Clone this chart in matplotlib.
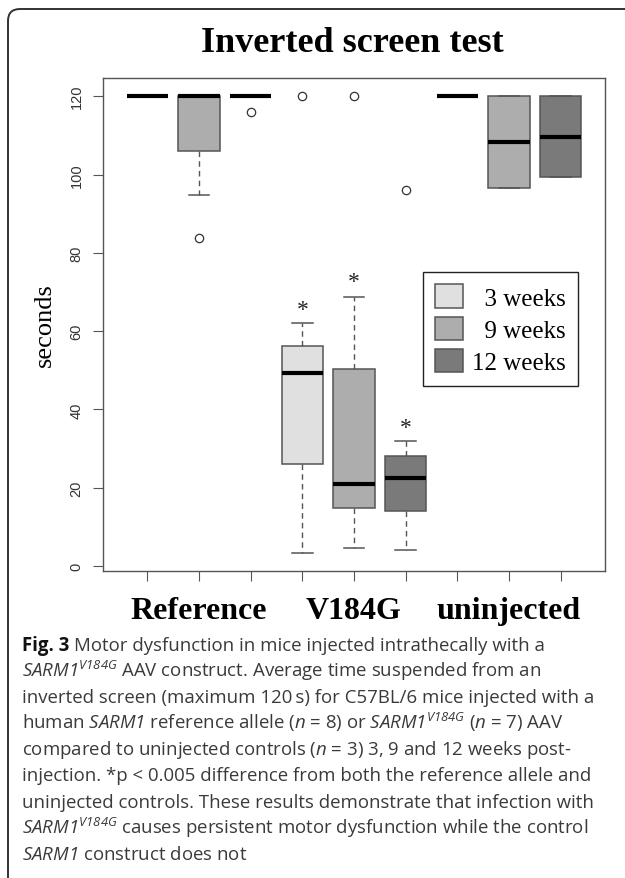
import matplotlib
matplotlib.use("Agg")
import matplotlib.pyplot as plt
from matplotlib.patches import FancyBboxPatch, Patch

plt.rcParams["mathtext.fontset"] = "custom"
plt.rcParams["mathtext.rm"] = "Open Sans:italic"
plt.rcParams["mathtext.it"] = "Open Sans:italic"
plt.rcParams["mathtext.bf"] = "Open Sans:bold"

SERIF = ["Liberation Serif", "DejaVu Serif"]
SANS = ["Liberation Sans", "DejaVu Sans"]

# boxplot stats, 9 boxes: Reference / V184G / uninjected  x  3, 9, 12 weeks
positions = [1, 2, 3, 4, 5, 6, 7, 8, 9]
med = [120, 120, 120, 49.3, 21.0, 22.6, 120, 108.3, 109.7]
q1 = [120, 106.0, 120, 26.0, 14.8, 14.0, 120, 96.5, 99.5]
q3 = [120, 120, 120, 56.1, 50.4, 28.2, 120, 120, 120]
whislo = [120, 94.8, 120, 3.4, 4.7, 4.0, 120, 96.5, 99.5]
whishi = [120, 120, 120, 62.0, 68.8, 31.9, 120, 120, 120]
fliers = [[], [83.7], [116.1], [120], [120], [96.1], [], [], []]

weeks = ["3 weeks", "9 weeks", "12 weeks"]
week_colors = ["#e0e0e0", "#adadad", "#7a7a7a"]
groups = ["Reference", "V184G", "uninjected"]

star_x = [4, 5, 6]
star_y = [65.6, 72.6, 35.3]

yticks = [0, 20, 40, 60, 80, 100, 120]

caption = [
    r"Motor dysfunction in mice injected intrathecally with a",
    r"$SARM1^{V184G}$ AAV construct. Average time suspended from an",
    "inverted screen (maximum 120\u2009s) for C57BL/6 mice injected with a",
    r"human $SARM1$ reference allele ($n$ = 8) or $SARM1^{V184G}$ ($n$ = 7) AAV",
    r"compared to uninjected controls ($n$ = 3) 3, 9 and 12 weeks post-",
    "injection. *p < 0.005 difference from both the reference allele and",
    "uninjected controls. These results demonstrate that infection with",
    r"$SARM1^{V184G}$ causes persistent motor dysfunction while the control",
    r"$SARM1$ construct does not",
]

W, H = 625, 879
fig = plt.figure(figsize=(W / 100, H / 100), dpi=100)
fig.patch.set_facecolor("white")

# panel frame (pixel coords)
bg = fig.add_axes([0, 0, 1, 1], zorder=-1)
bg.set_xlim(0, W); bg.set_ylim(H, 0); bg.set_axis_off()
bg.add_patch(FancyBboxPatch((8, 10), 800, 1000, boxstyle="round,pad=0,rounding_size=12",
                            facecolor="none", edgecolor="#333333", linewidth=1.4))

ax = fig.add_axes([103 / W, (H - 572) / H, 502 / W, 493 / H])
stats = [dict(med=m, q1=a, q3=b, whislo=lo, whishi=hi, fliers=f)
         for m, a, b, lo, hi, f in zip(med, q1, q3, whislo, whishi, fliers)]
bp = ax.bxp(stats, positions=positions, widths=0.8, capwidths=0.4, patch_artist=True,
            boxprops=dict(edgecolor="#555555", linewidth=1.1),
            whiskerprops=dict(color="#555555", linestyle=(0, (4, 3)), linewidth=1.0),
            capprops=dict(color="#555555", linewidth=1.1),
            medianprops=dict(color="black", linewidth=3, solid_capstyle="butt"),
            flierprops=dict(marker="o", markerfacecolor="none", markeredgecolor="#333333",
                            markersize=6, markeredgewidth=0.9))
for i, box in enumerate(bp["boxes"]):
    box.set_facecolor(week_colors[i % 3])

for x, y in zip(star_x, star_y):
    ax.text(x, y, "*", ha="center", va="center", fontsize=17, family=SERIF, color="#222222")

ax.set_xlim(0.14, 9.86)
ax.set_ylim(-1.26, 124.66)
for s in ax.spines.values():
    s.set_color("#555555"); s.set_linewidth(1.0)

ax.set_yticks(yticks)
ax.set_yticklabels([str(v) for v in yticks], rotation=90, va="center",
                   family=SANS, fontsize=10.5, color="#333333")
ax.tick_params(axis="y", length=7, color="#555555", pad=7)
ax.set_xticks(positions)
ax.set_xticklabels(["", groups[0], "", "", groups[1], "", "", groups[2], ""],
                   family=SERIF, fontsize=23, fontweight="bold")
ax.tick_params(axis="x", length=7, color="#555555", pad=11)
ax.set_ylabel("seconds", family=SERIF, fontsize=19, labelpad=10)

handles = [Patch(facecolor=c, edgecolor="#555555", linewidth=1.1) for c in week_colors]
labels = ["\u2007" + weeks[0], "\u2007" + weeks[1], weeks[2]]
ax.legend(handles, labels, loc="upper left", bbox_to_anchor=(0.637, 0.6065), borderaxespad=0,
          prop=dict(family=SERIF, size=18), fancybox=False, framealpha=1, edgecolor="#222222",
          handlelength=1.12, handleheight=1.05, labelspacing=0.28, handletextpad=0.35,
          borderpad=0.5)
ax.get_legend().get_frame().set_linewidth(1.0)

fig.text(352 / W, 1 - 52 / H, "Inverted screen test", ha="center", va="baseline",
         family=SERIF, fontsize=26, fontweight="bold")

# caption
fs = 13.4
y0 = 651
t = fig.text(22 / W, 1 - y0 / H, "Fig. 3", family="Open Sans", fontweight="bold",
             fontsize=fs, color="#111111", va="baseline")
r = fig.canvas.get_renderer()
bb = t.get_window_extent(renderer=r)
for i, line in enumerate(caption):
    x = 22 / W
    if i == 0:
        x = (bb.x1 + 5) / W
    fig.text(x, 1 - (y0 + 26.1 * i) / H, line, family="Open Sans", fontsize=fs,
             color="#3a3a3a", va="baseline")

fig.savefig("out.png", dpi=100, facecolor="white")
